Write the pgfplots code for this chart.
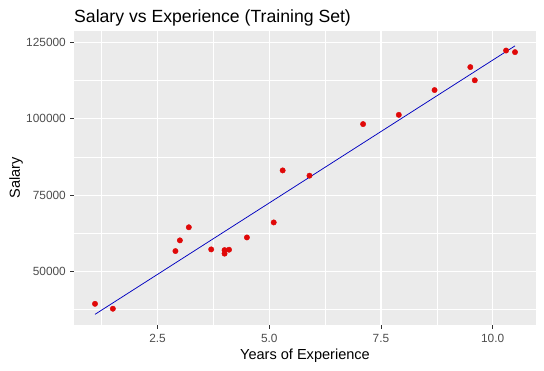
\documentclass[border=0pt]{standalone}
\usepackage{fontspec}
\setmainfont{Liberation Sans}
\usepackage{pgfplots}
\pgfplotsset{compat=1.18}
\definecolor{ggbg}{HTML}{EBEBEB}
\definecolor{gg30}{HTML}{4D4D4D}
\definecolor{gg20}{HTML}{333333}
\definecolor{ptred}{HTML}{E00808}
\definecolor{lnblue}{HTML}{0000C0}
\pgfplotstableread{
x y
1.1 39343
1.5 37731
2.9 56642
3.0 60150
3.2 64445
3.7 57189
4.0 55794
4.0 56957
4.1 57081
4.5 61111
5.1 66029
5.3 83088
5.9 81363
7.1 98273
7.9 101302
8.7 109431
9.5 116969
9.6 112635
10.3 122391
10.5 121872
}\train
\begin{document}
\begin{tikzpicture}
\useasboundingbox (0,0) rectangle (544bp,371bp);
\begin{axis}[
  at={(74bp,46bp)}, anchor=south west,
  scale only axis, width=462bp, height=294bp,
  xmin=0.63, xmax=10.97, ymin=32400, ymax=128800,
  scaled ticks=false,
  axis background/.style={fill=ggbg},
  axis line style={draw=none},
  xtick={2.5,5,7.5,10}, xticklabels={2.5,5.0,7.5,10.0},
  ytick={50000,75000,100000,125000}, yticklabels={50000,75000,100000,125000},
  minor xtick={1.25,3.75,6.25,8.75}, minor ytick={37500,62500,87500,112500},
  grid=both,
  major grid style={white, line width=1.1bp},
  minor grid style={white, line width=0.55bp},
  tick pos=left, tick align=outside,
  major tick length=3.7bp, minor tick length=0bp,
  major tick style={gg20, line width=0.9bp},
  minor tick style={draw=none},
  ticklabel style={font=\fontsize{11.9}{13}\selectfont, text=gg30},
  xticklabel style={anchor=north, inner sep=0pt, yshift=-5.6bp},
  yticklabel style={anchor=east, inner sep=0pt, xshift=-4.3bp},
  every axis title shift=0pt,
  title={Salary vs Experience (Training Set)},
  title style={at={(axis description cs:0,1.0282)}, anchor=base west, inner sep=0pt, font=\fontsize{17.7}{20}\selectfont},
  xlabel={Years of Experience},
  xlabel style={at={(axis description cs:0.5,-0.1167)}, anchor=base, inner sep=0pt, font=\fontsize{14.6}{17}\selectfont},
  ylabel={Salary},
  ylabel style={at={(axis description cs:-0.1173,0.5)}, anchor=base, inner sep=0pt, font=\fontsize{14.6}{17}\selectfont},
]
\addplot[ptred, only marks, mark=*, mark size=2.7bp, mark options={draw=ptred, fill=ptred, line width=0.4bp}] table[x=x, y=y] {\train};
\addplot[lnblue, line width=0.75bp, no marks] coordinates {(1.1,35894) (10.5,123925)};
\end{axis}
\end{tikzpicture}
\end{document}
